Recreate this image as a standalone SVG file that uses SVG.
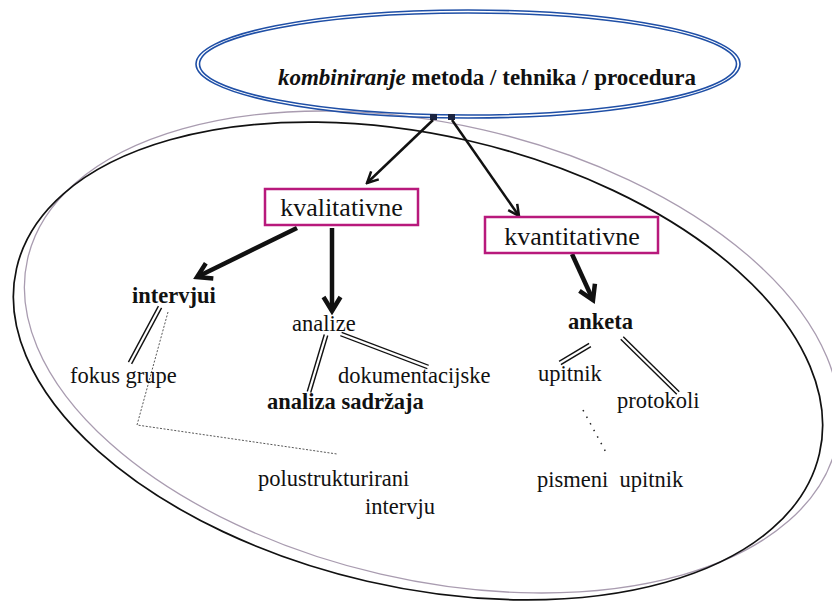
<svg xmlns="http://www.w3.org/2000/svg" width="832" height="601" viewBox="0 0 832 601">
<style>
  text { font-family: "Liberation Serif", "Times New Roman", serif; fill: #111; }
  .reg { font-size: 22.5px; }
  .bold { font-size: 22.5px; font-weight: bold; }
  .box { fill: #fff; stroke: #b8197c; stroke-width: 2.5; }
  .boxt { font-size: 26px; }
  .blue { fill: none; stroke: #1f4fa6; stroke-width: 1.6; }
  .thin { stroke: #111; stroke-width: 2.5; fill: none; }
  .thick { stroke: #111; stroke-width: 4.5; fill: none; }
  .dblo { stroke: #111; stroke-width: 5; stroke-linecap: butt; }
  .dbli { stroke: #fff; stroke-width: 2.2; stroke-linecap: square; }
  .dots { stroke: #444; stroke-width: 0.9; fill: none; stroke-dasharray: 2 1.6; }
  .dashdot { stroke: #222; stroke-width: 1.5; fill: none; stroke-dasharray: 1.5 6; }
</style>
<defs>
  <marker id="hThin" markerUnits="userSpaceOnUse" viewBox="-16 -10 18 20" refX="0" refY="0" markerWidth="18" markerHeight="20" orient="auto">
    <path d="M-11,-5.5 L0,0 L-11,5.5" fill="none" stroke="#111" stroke-width="2.5"/>
  </marker>
  <marker id="hThick" markerUnits="userSpaceOnUse" viewBox="-20 -14 24 28" refX="0" refY="0" markerWidth="24" markerHeight="28" orient="auto">
    <path d="M-14,-8.5 L0,0 L-14,8.5" fill="none" stroke="#111" stroke-width="4.5"/>
  </marker>
</defs>
<rect width="832" height="601" fill="#fff"/>

<g id="outer-ellipse">
  <ellipse cx="432" cy="352" rx="415" ry="228" transform="rotate(13 432 352)" fill="none" stroke="#a99cb0" stroke-width="1.3"/>
  <ellipse cx="418" cy="361" rx="412" ry="226" transform="rotate(13 418 361)" fill="none" stroke="#111" stroke-width="1.7"/>
</g>

<g id="title">
  <ellipse class="blue" cx="468" cy="64" rx="272" ry="54"/>
  <ellipse class="blue" cx="468" cy="64" rx="268.5" ry="51"/>
  <text x="487" y="85" text-anchor="middle" font-size="23" font-weight="bold"><tspan font-style="italic">kombiniranje</tspan> metoda / tehnika / procedura</text>
  <rect x="430" y="114" width="7" height="6" fill="#1a2340"/>
  <rect x="448" y="114" width="7" height="6" fill="#1a2340"/>
</g>

<g id="connectors">
  <line class="thin" x1="433" y1="120" x2="367" y2="183" marker-end="url(#hThin)"/>
  <line class="thin" x1="452" y1="120" x2="519" y2="216" marker-end="url(#hThin)"/>
  <line class="thick" x1="297" y1="228" x2="197" y2="277" marker-end="url(#hThick)"/>
  <line class="thick" x1="332" y1="228" x2="332" y2="311" marker-end="url(#hThick)"/>
  <line class="thick" x1="572" y1="254" x2="593" y2="300" marker-end="url(#hThick)"/>

  <line class="dblo" x1="160" y1="307" x2="130" y2="363"/>
  <line class="dbli" x1="160" y1="307" x2="130" y2="363"/>
  <line class="dblo" x1="326" y1="335" x2="309" y2="392"/>
  <line class="dbli" x1="326" y1="335" x2="309" y2="392"/>
  <line class="dblo" x1="341" y1="334" x2="428" y2="367"/>
  <line class="dbli" x1="341" y1="334" x2="428" y2="367"/>
  <line class="dblo" x1="590" y1="345" x2="560" y2="363"/>
  <line class="dbli" x1="590" y1="345" x2="560" y2="363"/>
  <line class="dblo" x1="622" y1="338" x2="678" y2="393"/>
  <line class="dbli" x1="622" y1="338" x2="678" y2="393"/>

  <polyline class="dots" points="168,312 137,425 337,454"/>
  <line class="dashdot" x1="583" y1="410" x2="608" y2="456"/>
</g>

<g id="kvalitativne">
  <rect class="box" x="265" y="189" width="153" height="36"/>
  <text class="boxt" x="341.5" y="216" text-anchor="middle">kvalitativne</text>
</g>
<g id="kvantitativne">
  <rect class="box" x="485" y="217" width="173" height="36"/>
  <text class="boxt" x="572" y="245" text-anchor="middle">kvantitativne</text>
</g>
<g id="intervjui"><text class="bold" x="132" y="303">intervjui</text></g>
<g id="analize"><text class="reg" x="292" y="331">analize</text></g>
<g id="fokus-grupe"><text class="reg" x="70" y="383">fokus grupe</text></g>
<g id="dokumentacijske"><text class="reg" x="338" y="383">dokumentacijske</text></g>
<g id="analiza-sadrzaja"><text class="bold" x="267" y="409">analiza sadržaja</text></g>
<g id="polustrukturirani"><text class="reg" x="258" y="486">polustrukturirani</text><text class="reg" x="365" y="514">intervju</text></g>
<g id="anketa"><text class="bold" x="568" y="329">anketa</text></g>
<g id="upitnik"><text class="reg" x="538" y="381">upitnik</text></g>
<g id="protokoli"><text class="reg" x="617" y="408">protokoli</text></g>
<g id="pismeni-upitnik"><text class="reg" x="537" y="487" xml:space="preserve">pismeni  upitnik</text></g>
</svg>
